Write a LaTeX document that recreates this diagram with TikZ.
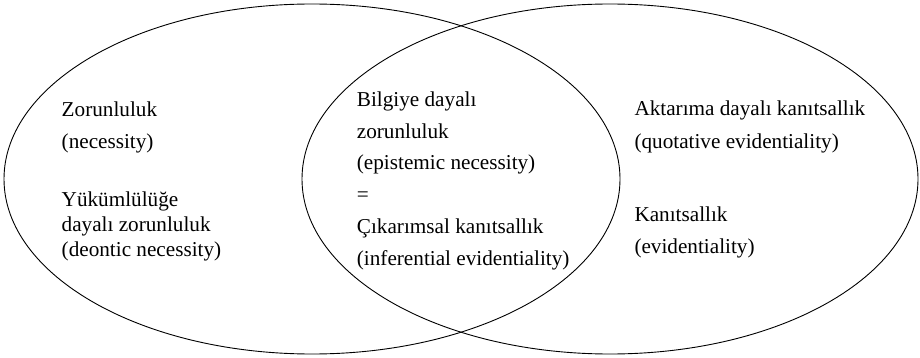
\documentclass[tikz,border=0pt]{standalone}
\usepackage{fontspec}
\setmainfont{Liberation Serif}
\begin{document}
\begin{tikzpicture}[x=1pt,y=-1pt,
  lbl/.style={anchor=base west, inner sep=0pt, font=\fontsize{21.2}{25}\selectfont},
  venn/.style={draw=black, line width=0.9pt}]
\useasboundingbox (0,0) rectangle (920,358);
\draw[venn] (312,179) ellipse [x radius=308, y radius=175];
\draw[venn] (610,179) ellipse [x radius=308, y radius=175];
% left set
\node[lbl] (l1) at (61.5,116.5) {Zorunluluk};
\node[lbl] (l2) at (61.5,149) {(necessity)};
\node[lbl] (l3) at (61.5,206.5) {Yükümlülüğe};
\node[lbl] (l4) at (61.5,231.5) {dayalı zorunluluk};
\node[lbl] (l5) at (61.5,256.5) {(deontic necessity)};
% intersection
\node[lbl] (m1) at (356.7,106.7) {Bilgiye dayalı};
\node[lbl] (m2) at (356.7,138.3) {zorunluluk};
\node[lbl] (m3) at (356.7,170) {(epistemic necessity)};
\node[lbl] (m4) at (356.7,201) {=};
\node[lbl] (m5) at (356.7,233.3) {Çıkarımsal kanıtsallık};
\node[lbl] (m6) at (356.7,265) {(inferential evidentiality)};
% right set
\node[lbl] (r1) at (634.3,116) {Aktarıma dayalı kanıtsallık};
\node[lbl] (r2) at (634.3,148.3) {(quotative evidentiality)};
\node[lbl] (r3) at (634.3,221.7) {Kanıtsallık};
\node[lbl] (r4) at (634.3,253.3) {(evidentiality)};
\end{tikzpicture}
\end{document}
